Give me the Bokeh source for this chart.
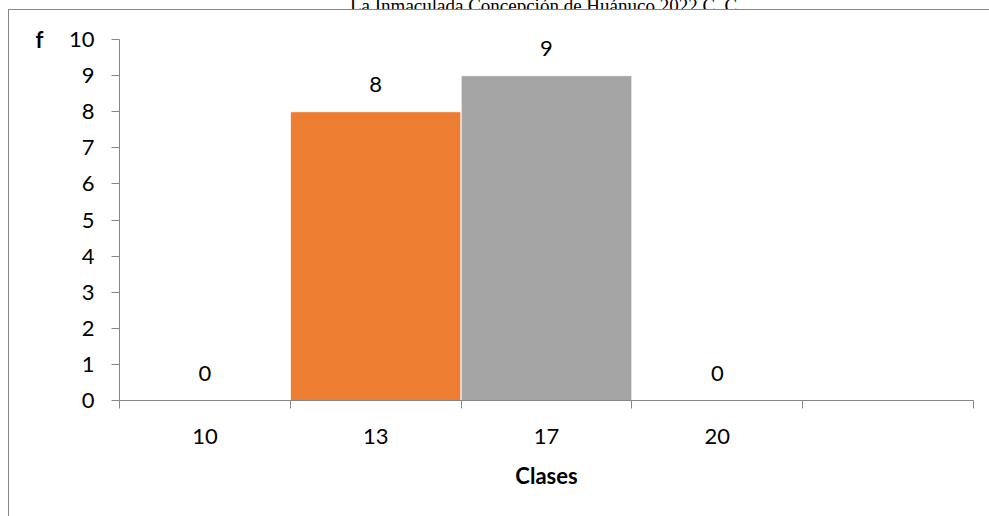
from bokeh.plotting import figure
from bokeh.models import ColumnDataSource, FixedTicker, Range1d, LinearAxis, Div
from bokeh.layouts import column
from bokeh.core.properties import value
from bokeh.embed import file_html
from bokeh.resources import INLINE

# Data
categories = ["10", "13", "17", "20"]
frequencies = [0, 8, 9, 0]
bar_colors = ["#4472C4", "#ED7D31", "#A5A5A5", "#FFC000"]
y_ticks = list(range(0, 11))
title_text = "La Inmaculada Concepción de Huánuco 2022 C. C."
x_title = "Clases"
y_title = "f"

n_slots = 5
centers = [i + 0.5 for i in range(len(categories))]

src = ColumnDataSource(dict(
    x=centers, top=frequencies, color=bar_colors,
    label=[str(v) for v in frequencies],
))

FONT = "Lato"
FS = "22px"
AXIS_GRAY = "#868686"

p = figure(width=981, height=507, output_backend="svg", toolbar_location=None,
           x_range=Range1d(0, n_slots), y_range=Range1d(0, 10),
           min_border_left=110, min_border_right=17, min_border_top=29,
           min_border_bottom=117)
p.outline_line_color = None
p.xgrid.visible = False
p.ygrid.visible = False
p.background_fill_color = "white"
p.border_fill_color = "white"
p.margin = (0, 0, 0, 8)
p.styles = {"border-left": "1px solid #868686", "border-top": "1px solid #868686"}

p.vbar(x="x", top="top", bottom=0, width=1.0, fill_color="color",
       line_color="white", line_width=1, source=src)

p.text(x="x", y="top", text="label", source=src, text_align="center",
       text_baseline="alphabetic", y_offset=-27, text_font=value(FONT),
       text_font_size=FS, text_color="#000000")

# x axis
xa = p.xaxis[0]
xa.ticker = FixedTicker(ticks=centers, minor_ticks=list(range(0, n_slots + 1)))
xa.major_label_overrides = {c: lab for c, lab in zip(centers, categories)}
xa.major_tick_out = 0
xa.major_tick_in = 0
xa.minor_tick_out = 8
xa.minor_tick_in = 0
xa.axis_line_color = AXIS_GRAY
xa.minor_tick_line_color = AXIS_GRAY
xa.major_label_text_font = FONT
xa.major_label_text_font_size = FS
xa.major_label_text_color = "#000000"
xa.major_label_standoff = 20
xa.axis_label = x_title
xa.axis_label_text_font = FONT
xa.axis_label_text_font_style = "bold"
xa.axis_label_text_font_size = FS
xa.axis_label_text_color = "#000000"
xa.axis_label_standoff = 15

# y axis
ya = p.yaxis[0]
ya.ticker = FixedTicker(ticks=y_ticks)
ya.major_tick_out = 8
ya.major_tick_in = 0
ya.minor_tick_line_color = None
ya.axis_line_color = AXIS_GRAY
ya.major_tick_line_color = AXIS_GRAY
ya.major_label_text_font = FONT
ya.major_label_text_font_size = FS
ya.major_label_text_color = "#000000"
ya.major_label_standoff = 17

# y title "f" as an outer axis with one label at the top
fa = LinearAxis(ticker=FixedTicker(ticks=[y_ticks[-1]]),
                major_label_overrides={y_ticks[-1]: y_title})
fa.axis_line_color = None
fa.major_tick_line_color = None
fa.minor_tick_line_color = None
fa.major_label_text_font = FONT
fa.major_label_text_font_style = "bold"
fa.major_label_text_font_size = FS
fa.major_label_text_color = "#000000"
fa.major_label_standoff = 16
p.add_layout(fa, "left")

title_html = (
    "<div style=\"font-family:'Liberation Serif';font-size:19px;line-height:19px;"
    "white-space:nowrap;text-align:center;width:989px;padding-left:103px;"
    "box-sizing:border-box;margin-top:-8px;color:#000;\">" + title_text + "</div>"
)
title_div = Div(text=title_html, width=989, height=9, margin=(0, 0, 0, 0),
                styles={"overflow": "hidden"})

layout = column(title_div, p, spacing=0)

open("out.html", "w").write(file_html(layout, INLINE))
